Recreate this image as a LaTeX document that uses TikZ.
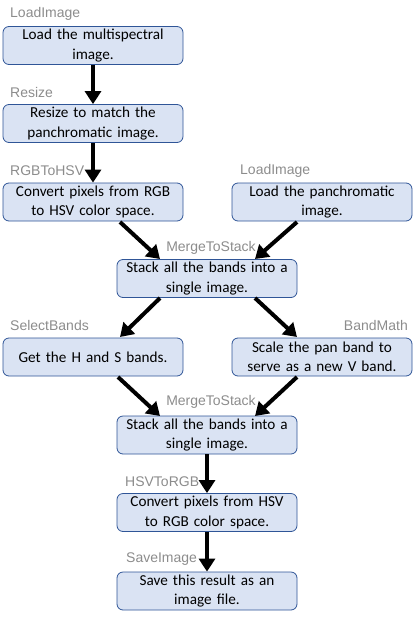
\documentclass[tikz,border=0pt]{standalone}
\usepackage{fontspec}
\setmainfont{Carlito}
\newfontfamily\lblfont{Liberation Sans}
\usetikzlibrary{arrows.meta}
\definecolor{boxfill}{HTML}{DAE3F3}
\definecolor{boxline}{HTML}{2F5597}
\definecolor{lblgray}{HTML}{8C8C8C}
\begin{document}
\begin{tikzpicture}[x=1pt,y=-1pt,
  stepbox/.style={draw=boxline, fill=boxfill, line width=0.8pt, rounded corners=6pt,
    minimum width=180pt, minimum height=38pt, inner sep=2pt, align=center,
    font=\fontsize{15.2}{19.5}\selectfont, text width=176pt},
  lbl/.style={text=lblgray, font=\lblfont\fontsize{14}{16}\selectfont, inner sep=0pt},
  flow/.style={line width=4pt, -{Triangle[length=13pt,width=16pt]}, shorten >=0pt}]
\useasboundingbox (0,0) rectangle (418,619);
\node[stepbox] (b1) at (93,45.5) {Load the multispectral\\image.};
\node[stepbox] (b2) at (93,123.5) {Resize to match the\\panchromatic image.};
\node[stepbox] (b3) at (93,202) {Convert pixels from RGB\\to HSV color space.};
\node[stepbox] (b4) at (322,202) {Load the panchromatic\\image.};
\node[stepbox] (b5) at (207,278.5) {Stack all the bands into a\\single image.};
\node[stepbox] (b6) at (93,357) {Get the H and S bands.};
\node[stepbox] (b7) at (322,357) {Scale the pan band to\\serve as a new V band.};
\node[stepbox] (b8) at (207,435) {Stack all the bands into a\\single image.};
\node[stepbox] (b9) at (207,512.5) {Convert pixels from HSV\\to RGB color space.};
\node[stepbox] (b10) at (207,591) {Save this result as an\\image file.};

\node[lbl, anchor=west] (l1) at (10,14) {LoadImage};
\node[lbl, anchor=west] (l2) at (10,92) {Resize};
\node[lbl, anchor=west] (l3) at (10,171) {RGBToHSV};
\node[lbl, anchor=west] (l4) at (240,171) {LoadImage};
\node[lbl] (l5) at (211,248) {MergeToStack};
\node[lbl, anchor=west] (l6) at (10,325) {SelectBands};
\node[lbl, anchor=east] (l7) at (408,325) {BandMath};
\node[lbl] (l8) at (211,402) {MergeToStack};
\node[lbl, anchor=west] (l9) at (125,482) {HSVToRGB};
\node[lbl, anchor=west] (l10) at (126,559) {SaveImage};

\coordinate (b3s) at (120,222);
\coordinate (b5w) at (160,259);
\coordinate (b4s) at (297,222);
\coordinate (b5e) at (255,259);
\coordinate (b5sw) at (160,298);
\coordinate (b6n) at (120,337);
\coordinate (b5se) at (255,298);
\coordinate (b7n) at (297,337);
\coordinate (b6s) at (118,377);
\coordinate (b8w) at (160,416);
\coordinate (b7s) at (297,377);
\coordinate (b8e) at (255,416);

\draw[flow] (b1.south) -- (b2.north);
\draw[flow] (b2.south) -- (b3.north);
\draw[flow] (b3s) -- (b5w);
\draw[flow] (b4s) -- (b5e);
\draw[flow] (b5sw) -- (b6n);
\draw[flow] (b5se) -- (b7n);
\draw[flow] (b6s) -- (b8w);
\draw[flow] (b7s) -- (b8e);
\draw[flow] (b8.south) -- (b9.north);
\draw[flow] (b9.south) -- (b10.north);
\end{tikzpicture}
\end{document}
